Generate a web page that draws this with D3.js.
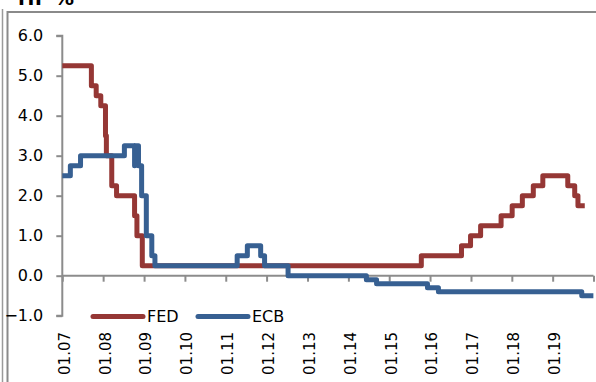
<!DOCTYPE html>
<html>
<head>
<meta charset="utf-8">
<script src="https://cdn.jsdelivr.net/npm/d3@7"></script>
<style>
  html, body { margin: 0; padding: 0; background: #fff; }
  svg { display: block; font-family: "DejaVu Sans", sans-serif; }
</style>
</head>
<body>
<svg id="chart" width="596" height="382"></svg>
<script>
// ---- data ----
const fedDates = ["2007-01-01","2007-09-18","2007-10-31","2007-12-11","2008-01-22","2008-01-30","2008-03-18","2008-04-30","2008-10-08","2008-10-29","2008-12-16","2015-10-15","2016-10-08","2016-12-28","2017-03-28","2017-09-27","2018-01-04","2018-04-05","2018-07-12","2018-10-05","2019-05-16","2019-07-17","2019-08-15","2019-10-15"];
const fedValues = [5.25,4.75,4.50,4.25,3.50,3.00,2.25,2.00,1.50,1.00,0.25,0.50,0.75,1.00,1.25,1.50,1.75,2.00,2.25,2.50,2.25,2.00,1.75,1.75];
const ecbDates = ["2007-01-01","2007-03-14","2007-06-13","2008-07-09","2008-10-08","2008-10-09","2008-11-12","2008-12-10","2009-01-21","2009-03-11","2009-04-08","2011-04-13","2011-07-13","2011-11-09","2011-12-14","2012-07-11","2014-06-11","2014-09-10","2015-12-09","2016-03-16","2019-09-18","2019-12-31"];
const ecbValues = [2.50,2.75,3.00,3.25,2.75,3.25,2.75,2.00,1.00,0.50,0.25,0.50,0.75,0.50,0.25,0.00,-0.10,-0.20,-0.30,-0.40,-0.50,-0.50];
const yTicks = [-1,0,1,2,3,4,5,6];
const xTickYears = [2007,2008,2009,2010,2011,2012,2013,2014,2015,2016,2017,2018,2019];
const seriesNames = ["FED","ECB"];
const seriesColors = ["#953735","#376092"];
const titleText = "in %";

// ---- setup ----
const svg = d3.select("#chart");
const parse = d3.timeParse("%Y-%m-%d");
const x = d3.scaleTime()
  .domain([new Date(2007,0,1), new Date(2020,0,1)])
  .range([62.3, 593.5]);
const y = d3.scaleLinear().domain([-1, 6]).range([315.7, 35.7]);

// frame
svg.append("line").attr("x1",2.5).attr("x2",2.5).attr("y1",9).attr("y2",382)
  .attr("stroke","#9a9a9a").attr("stroke-width",1.5);
svg.append("rect").attr("x",7.5).attr("y",12).attr("width",620).attr("height",400)
  .attr("fill","none").attr("stroke","#8a8a8a").attr("stroke-width",2);

// title (cut at top)
svg.append("text").attr("x",18).attr("y",4.5)
  .attr("font-size",20).attr("font-weight","bold").attr("fill","#000")
  .attr("textLength",56).attr("lengthAdjust","spacing")
  .text(titleText);

// y axis
const axisColor = "#8c8c8c";
const yAxis = d3.axisLeft(y).tickValues(yTicks).tickSize(6).tickPadding(12)
  .tickFormat(d3.format(".1f"));
const gy = svg.append("g").attr("transform","translate(62.3,0)").call(yAxis);
gy.select(".domain").attr("stroke",axisColor).attr("stroke-width",2).attr("d",`M-6,${y(6)}H0V${y(-1)}H-6`);
gy.selectAll(".tick line").attr("stroke",axisColor).attr("stroke-width",2);
gy.selectAll(".tick text").attr("font-size",16).attr("fill","#000")
  .attr("font-family","DejaVu Sans, sans-serif").attr("x",-19);

// x axis at zero
const xTicks = xTickYears.concat([2020]).map(yr => new Date(yr,0,1));
const xAxis = d3.axisBottom(x).tickValues(xTicks).tickSize(6).tickFormat("");
const gx = svg.append("g").attr("transform",`translate(0,${y(0)})`).call(xAxis);
gx.select(".domain").attr("stroke",axisColor).attr("stroke-width",2).attr("d",`M${x.range()[0]},0H${x.range()[1]}`);
gx.selectAll(".tick line").attr("stroke",axisColor).attr("stroke-width",2);

// x labels (low position, rotated)
svg.append("g").selectAll("text").data(xTickYears).join("text")
  .attr("transform", d => `translate(${x(new Date(d,0,1)) + 2},332) rotate(-90)`)
  .attr("text-anchor","end").attr("dy","0.36em")
  .attr("font-size",15).attr("fill","#000")
  .text(d => "01." + String(d % 100).padStart(2,"0"));

// lines
const line = d3.line().curve(d3.curveStepAfter).x(d => x(d.date)).y(d => y(d.value));
const fed = fedDates.map((d,i) => ({date: parse(d), value: fedValues[i]}));
const ecb = ecbDates.map((d,i) => ({date: parse(d), value: ecbValues[i]}));
[fed, ecb].forEach((data, i) => {
  svg.append("path").datum(data).attr("d", line)
    .attr("fill","none").attr("stroke",seriesColors[i]).attr("stroke-width",5)
    .attr("stroke-linejoin","round").attr("stroke-linecap","butt");
});

// legend
const legendX = [93, 198];
const legend = svg.append("g");
seriesNames.forEach((name, i) => {
  legend.append("line").attr("x1",legendX[i]).attr("x2",legendX[i]+50)
    .attr("y1",316.5).attr("y2",316.5)
    .attr("stroke",seriesColors[i]).attr("stroke-width",5).attr("stroke-linecap","round");
  legend.append("text").attr("x",legendX[i]+54).attr("y",316.5).attr("dy","0.36em")
    .attr("font-size",16).attr("fill","#000").text(name);
});
</script>
</body>
</html>
